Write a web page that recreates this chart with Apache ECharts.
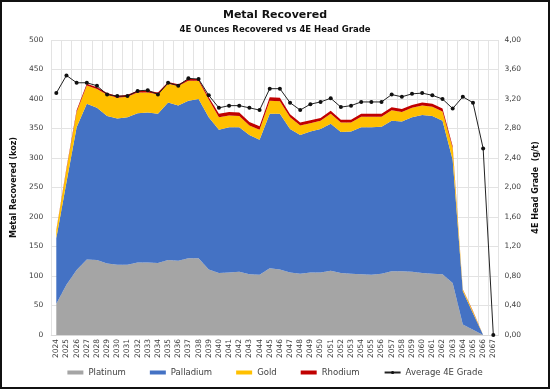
<!DOCTYPE html>
<html>
<head>
<meta charset="utf-8">
<script src="https://cdn.jsdelivr.net/npm/echarts@6/dist/echarts.min.js"></script>
<style>
html,body{margin:0;padding:0;background:#fff;}
#wrap{position:absolute;left:0;top:0;width:550px;height:389px;box-sizing:border-box;border:2px solid #111;}
#chart{position:absolute;left:0;top:0;width:546px;height:385px;}
</style>
</head>
<body>
<div id="wrap"><div id="chart"></div></div>
<script>
const years = [];
for (let y = 2024; y <= 2067; y++) years.push(String(y));

const platinum = [53, 85, 110, 128, 127, 121, 119, 119, 123, 123, 122, 127, 126, 130, 130, 111, 105, 106, 107, 103, 102, 113, 111, 106, 104, 106, 106, 109, 105, 104, 103, 102, 104, 108, 108, 107, 105, 104, 103, 88, 18, 9, 0, 0];
const palladium = [111, 174, 242, 264, 258, 250, 248, 250, 253, 254, 253, 267, 263, 267, 270, 258, 243, 246, 245, 236, 229, 262, 264, 243, 235, 239, 243, 249, 239, 241, 249, 250, 249, 255, 254, 262, 268, 267, 260, 209, 56, 28, 0, 0];
const gold = [13, 22, 26, 31, 32, 36, 35, 35, 35, 34, 33, 32, 33, 34, 31, 30, 21, 20, 19, 16, 17, 22, 21, 20, 16, 14, 14, 17, 16, 15, 18, 18, 17, 18, 16, 16, 16, 16, 16, 20, 3, 3, 0, 0];
const rhodium = [1, 2, 3, 3, 3, 3, 3, 3, 3, 3, 3, 3, 3, 3, 3, 4, 6, 6, 6, 6, 6, 6, 6, 5, 5, 5, 5, 5, 5, 5, 5, 5, 5, 5, 5, 5, 5, 5, 5, 3, 0.5, 0.5, 0, 0];
const grade = [3.28, 3.52, 3.42, 3.42, 3.38, 3.26, 3.24, 3.24, 3.31, 3.32, 3.26, 3.42, 3.38, 3.48, 3.47, 3.25, 3.08, 3.11, 3.11, 3.08, 3.05, 3.34, 3.34, 3.15, 3.05, 3.13, 3.16, 3.21, 3.09, 3.11, 3.16, 3.16, 3.16, 3.26, 3.23, 3.27, 3.28, 3.25, 3.20, 3.07, 3.23, 3.15, 2.53, 0];

const FONT = 'DejaVu Sans';
const chart = echarts.init(document.getElementById('chart'), null, {renderer: 'canvas'});

function areaSeries(name, data, color) {
  return {
    name, type: 'line', stack: 'metal', data,
    symbol: 'none', showSymbol: false,
    lineStyle: {width: 0, color},
    itemStyle: {color},
    areaStyle: {color, opacity: 1},
    z: 2
  };
}

chart.setOption({
  animation: false,
  textStyle: {fontFamily: FONT},
  title: [
    {text: 'Metal Recovered', left: 'center', top: 3,
     textStyle: {fontFamily: FONT, fontSize: 11, fontWeight: 'bold', color: '#111'}},
    {text: '4E Ounces Recovered vs 4E Head Grade', left: 'center', top: 18,
     textStyle: {fontFamily: FONT, fontSize: 8.5, fontWeight: 'bold', color: '#111'}}
  ],
  grid: {left: 44, right: 45, top: 38, bottom: 52},
  legend: {
    bottom: 5, left: 'center',
    itemWidth: 16, itemHeight: 4, itemGap: 24,
    textStyle: {fontFamily: FONT, fontSize: 8.5, color: '#404040'},
    data: [
      {name: 'Platinum', icon: 'rect'},
      {name: 'Palladium', icon: 'rect'},
      {name: 'Gold', icon: 'rect'},
      {name: 'Rhodium', icon: 'rect'},
      {name: 'Average 4E Grade'}
    ]
  },
  xAxis: {
    type: 'category', data: years, boundaryGap: true,
    axisLine: {show: true, lineStyle: {color: '#D9D9D9'}},
    axisTick: {show: false},
    axisLabel: {rotate: 90, interval: 0, fontSize: 7.5, color: '#404040', margin: 4, fontFamily: FONT},
    splitLine: {show: true, interval: 0, lineStyle: {color: '#E3E3E3', width: 1}}
  },
  yAxis: [
    {
      type: 'value', min: 0, max: 500, interval: 50,
      name: 'Metal Recovered (koz)', nameLocation: 'middle', nameGap: 27, nameRotate: 90,
      nameTextStyle: {fontFamily: FONT, fontSize: 8, fontWeight: 'bold', color: '#111'},
      axisLine: {show: false}, axisTick: {show: false},
      axisLabel: {fontSize: 7.5, color: '#404040', margin: 8, fontFamily: FONT},
      splitLine: {show: true, lineStyle: {color: '#E3E3E3', width: 1}}
    },
    {
      type: 'value', min: 0, max: 4, interval: 0.4, position: 'right',
      name: '4E Head Grade  (g/t)', nameLocation: 'middle', nameGap: 33, nameRotate: 90,
      nameTextStyle: {fontFamily: FONT, fontSize: 8, fontWeight: 'bold', color: '#111'},
      axisLine: {show: false}, axisTick: {show: false},
      axisLabel: {fontSize: 7.5, color: '#404040', margin: 6, fontFamily: FONT,
        formatter: v => v.toFixed(2).replace('.', ',')},
      splitLine: {show: false}
    }
  ],
  series: [
    areaSeries('Platinum', platinum, '#A5A5A5'),
    areaSeries('Palladium', palladium, '#4472C4'),
    areaSeries('Gold', gold, '#FFC000'),
    areaSeries('Rhodium', rhodium, '#C00000'),
    {
      name: 'Average 4E Grade', type: 'line', yAxisIndex: 1, data: grade,
      symbol: 'circle', symbolSize: 4, showSymbol: true,
      lineStyle: {color: '#222', width: 1},
      itemStyle: {color: '#111'},
      z: 5
    }
  ]
});
</script>
</body>
</html>
